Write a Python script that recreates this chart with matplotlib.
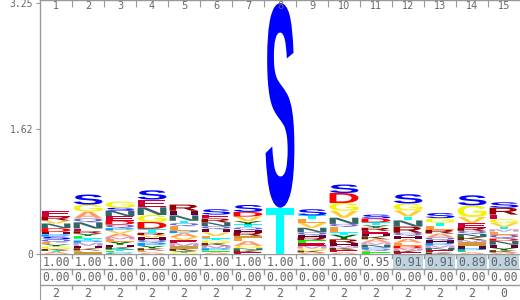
import matplotlib
matplotlib.use("Agg")
import matplotlib.pyplot as plt
from matplotlib.patches import PathPatch, Rectangle
from matplotlib.textpath import TextPath
from matplotlib.font_manager import FontProperties
from matplotlib.transforms import Affine2D, blended_transform_factory

# ---------------------------------------------------------------------------
# Data
# ---------------------------------------------------------------------------

positions = list(range(1, 16))

# letter stacks, bottom to top, heights in bits
stacks = [
    [("A", .025), ("T", .015), ("K", .025), ("G", .035), ("Y", .025), ("L", .025), ("Q", .04), ("S", .035),
     ("P", .03), ("H", .03), ("D", .05), ("N", .06), ("V", .04), ("R", .05), ("E", .07)],
    [("I", .02), ("L", .025), ("K", .03), ("H", .03), ("M", .04), ("P", .03), ("T", .03), ("F", .03), ("Y", .03),
     ("R", .03), ("E", .035), ("N", .08), ("Q", .05), ("A", .09), ("G", .09), ("S", .13)],
    [("C", .02), ("F", .02), ("T", .02), ("K", .03), ("H", .03), ("Y", .04), ("L", .03), ("M", .03), ("A", .045),
     ("V", .04), ("P", .03), ("Q", .045), ("D", .05), ("E", .06), ("N", .07), ("S", .04), ("G", .08)],
    [("A", .02), ("L", .025), ("K", .03), ("Y", .03), ("P", .04), ("Q", .04), ("H", .03), ("V", .03), ("R", .03),
     ("T", .05), ("D", .09), ("G", .09), ("N", .1), ("E", .1), ("S", .12)],
    [("G", .02), ("Y", .02), ("K", .03), ("I", .03), ("M", .04), ("E", .04), ("V", .04), ("A", .05), ("P", .03),
     ("L", .06), ("Q", .04), ("T", .03), ("N", .07), ("H", .06), ("R", .08)],
    [("A", .02), ("F", .025), ("P", .03), ("M", .035), ("K", .035), ("G", .03), ("T", .03), ("L", .03), ("V", .045),
     ("H", .04), ("Q", .04), ("N", .05), ("R", .05), ("E", .05), ("S", .07)],
    [("E", .02), ("K", .03), ("N", .025), ("G", .03), ("A", .06), ("L", .04), ("I", .03), ("R", .04), ("H", .035),
     ("Q", .035), ("T", .04), ("Y", .04), ("V", .06), ("D", .06), ("S", .09)],
    [("T", .6), ("S", 2.65)],
    [("A", .02), ("K", .025), ("G", .025), ("M", .035), ("E", .035), ("F", .04), ("R", .03), ("H", .03), ("Q", .04),
     ("N", .06), ("V", .06), ("L", .05), ("T", .05), ("S", .08)],
    [("A", .02), ("E", .03), ("K", .03), ("M", .03), ("H", .03), ("R", .05), ("Y", .06), ("T", .03), ("L", .07),
     ("Q", .04), ("N", .08), ("V", .09), ("G", .1), ("D", .13), ("S", .11)],
    [("F", .02), ("L", .02), ("Q", .025), ("P", .02), ("N", .035), ("M", .03), ("A", .04), ("K", .04), ("H", .03),
     ("E", .04), ("R", .04), ("Y", .03), ("T", .04), ("D", .05), ("S", .05)],
    [("E", .02), ("K", .025), ("M", .03), ("D", .03), ("L", .04), ("A", .05), ("H", .04), ("Q", .04), ("R", .08),
     ("N", .08), ("T", .05), ("V", .08), ("G", .09), ("S", .12)],
    [("K", .02), ("E", .03), ("N", .03), ("M", .03), ("P", .035), ("H", .03), ("Q", .04), ("A", .05), ("R", .05),
     ("L", .05), ("T", .04), ("G", .06), ("S", .065)],
    [("A", .02), ("F", .02), ("P", .03), ("H", .04), ("I", .04), ("M", .03), ("K", .04), ("N", .04), ("Q", .04),
     ("R", .04), ("E", .06), ("V", .08), ("G", .15), ("S", .13)],
    [("A", .02), ("K", .03), ("Y", .03), ("H", .04), ("N", .05), ("D", .03), ("Q", .05), ("L", .04), ("M", .03),
     ("T", .03), ("V", .05), ("G", .05), ("E", .06), ("R", .09), ("S", .07)],
]

occupancy = [1.00, 1.00, 1.00, 1.00, 1.00, 1.00, 1.00, 1.00, 1.00, 1.00, 0.95, 0.91, 0.91, 0.89, 0.86]
insert_prob = [0.00] * 15
insert_len = [2, 2, 2, 2, 2, 2, 2, 2, 2, 2, 2, 2, 2, 2, 0]

y_ticks = [0, 1.62, 3.25]
y_tick_labels = ["0", "1.62", "3.25"]

AA_COLORS = {
    "A": "#FF9966", "C": "#009999", "D": "#FF0000", "E": "#CC0033", "F": "#00FF00",
    "G": "#F2F20C", "H": "#660033", "I": "#CC9933", "K": "#663300", "L": "#FF9933",
    "M": "#CC99CC", "N": "#336666", "P": "#0099FF", "Q": "#6666CC", "R": "#990000",
    "S": "#0000FF", "T": "#00FFFF", "V": "#FFCC33", "W": "#66CC66", "Y": "#006600",
}

GRID = "#999999"
TXT = "#666666"
HILITE = "#BCD4E1"

# ---------------------------------------------------------------------------
# Figure
# ---------------------------------------------------------------------------

W, H = 520, 300
fig = plt.figure(figsize=(W / 100, H / 100), dpi=100)
fig.patch.set_facecolor("white")

logo_ax = fig.add_axes([40 / W, 46 / H, 480 / W, 254 / H])
tab_ax = fig.add_axes([40 / W, 0, 480 / W, 46 / H])

letter_font = FontProperties(family="Liberation Sans", weight="bold")
path_cache = {}


def letter_path(ch):
    if ch not in path_cache:
        path_cache[ch] = TextPath((0, 0), ch, size=1, prop=letter_font)
    return path_cache[ch]


def draw_letter(ax, ch, x, y0, h, width=0.9):
    p = letter_path(ch)
    bb = p.get_extents()
    tr = (Affine2D().translate(-bb.x0, -bb.y0)
          .scale(width / bb.width, h / bb.height)
          .translate(x - width / 2, y0))
    ax.add_patch(PathPatch(tr.transform_path(p), facecolor=AA_COLORS[ch],
                           edgecolor="none", lw=0))


for pos, stack in zip(positions, stacks):
    y = 0.0
    for ch, h in stack:
        draw_letter(logo_ax, ch, pos, y, h)
        y += h

# logo axes styling
logo_ax.set_xlim(0.5, 15.5)
logo_ax.set_ylim(0, 3.29)
for side in ["right", "bottom"]:
    logo_ax.spines[side].set_visible(False)
for side in ["left", "top"]:
    logo_ax.spines[side].set_color(GRID)
    logo_ax.spines[side].set_linewidth(1)

logo_ax.set_yticks(y_ticks)
logo_ax.set_yticklabels(y_tick_labels, family="DejaVu Sans Mono", fontsize=7, color=TXT)
logo_ax.tick_params(axis="y", length=3, color=GRID, pad=2)

bounds = [p + 0.5 for p in positions[:-1]]
logo_ax.set_xticks(bounds)
logo_ax.set_xticklabels([])
logo_ax.tick_params(axis="x", bottom=False, top=True, direction="in", length=5, color=GRID)

top_tr = blended_transform_factory(logo_ax.transData, logo_ax.transAxes)
for pos in positions:
    logo_ax.text(pos, 0.975, str(pos), transform=top_tr, ha="center", va="center",
                 fontsize=7, color=TXT)

# table below the logo
tab_ax.set_xlim(0.5, 15.5)
tab_ax.set_ylim(0, 3)
tab_ax.set_xticks([])
tab_ax.set_yticks([])
for side in ["right", "bottom", "top"]:
    tab_ax.spines[side].set_visible(False)
tab_ax.spines["left"].set_color(GRID)

for yl in [3, 2, 1]:
    tab_ax.axhline(yl, color=GRID, lw=1)
    for b in bounds:
        tab_ax.plot([b, b], [yl, yl - 0.28], color=GRID, lw=1)

gap = 1 / 32
for pos, occ in zip(positions, occupancy):
    if occ < 0.92:
        tab_ax.add_patch(Rectangle((pos - 0.5 + gap, 2.03), 1 - 2 * gap, 0.9,
                                   facecolor=HILITE, edgecolor="none", zorder=0))
    tab_ax.text(pos, 2.45, f"{occ:.2f}", ha="center", va="center",
                family="DejaVu Sans Mono", fontsize=8.3, color=TXT)

for pos, ip, il in zip(positions, insert_prob, insert_len):
    tab_ax.text(pos, 1.45, f"{ip:.2f}", ha="center", va="center",
                family="DejaVu Sans Mono", fontsize=8.3, color=TXT)
    tab_ax.text(pos, 0.45, str(il), ha="center", va="center",
                family="DejaVu Sans Mono", fontsize=8.3, color=TXT)

fig.savefig("out.png", dpi=100, facecolor=fig.get_facecolor())
plt.close(fig)
